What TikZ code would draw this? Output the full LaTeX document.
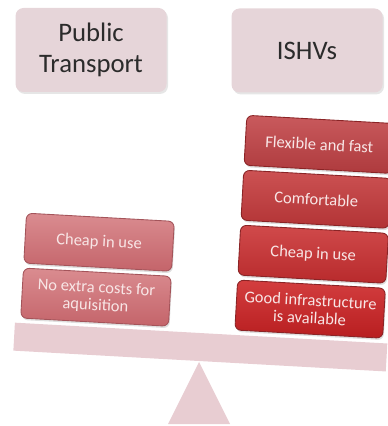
\documentclass[tikz,border=0pt]{standalone}
\usepackage{fontspec}
\setmainfont{Carlito}
\usetikzlibrary{shadows}

\definecolor{headerpink}{HTML}{E6D5D9}
\definecolor{headertext}{HTML}{2B2B2B}
\definecolor{beampink}{HTML}{E8CDD2}
\definecolor{boxtext}{HTML}{F8E6E6}
\definecolor{lefttop}{HTML}{DA8C90}
\definecolor{leftbottom}{HTML}{C4646A}
\definecolor{leftedge}{HTML}{A4545A}
\definecolor{rightedge}{HTML}{8A2426}
\definecolor{flextop}{HTML}{C95A5D}
\definecolor{flexbottom}{HTML}{AE3A3D}
\definecolor{comftop}{HTML}{CC5253}
\definecolor{comfbottom}{HTML}{B23335}
\definecolor{cheaptop}{HTML}{D04A4B}
\definecolor{cheapbottom}{HTML}{B82A2C}
\definecolor{goodtop}{HTML}{D33E3F}
\definecolor{goodbottom}{HTML}{B81E20}

\begin{document}
\begin{tikzpicture}[
  header/.style={minimum height=1.68cm, minimum width=3.02cm, rounded corners=0.16cm, fill=headerpink, text=headertext, align=center, font=\fontsize{15.2}{17.6}\selectfont, drop shadow={opacity=0.2, shadow xshift=0.03cm, shadow yshift=-0.04cm}},
  argbox/.style={minimum height=1cm, minimum width=2.96cm, rounded corners=0.12cm, draw=#1, line width=0.5pt, text=boxtext, align=center, inner sep=1pt, font=\fontsize{9.4}{10}\selectfont, drop shadow={opacity=0.25, shadow xshift=0.02cm, shadow yshift=-0.04cm}},
  leftbox/.style={argbox=leftedge, top color=lefttop, bottom color=leftbottom},
  rightbox/.style={argbox=rightedge, top color=#1top, bottom color=#1bottom}
]
\useasboundingbox (0,0) rectangle (7.74,-8.52);

\node (publictransport) [header] at (1.82, -1.0) {Public\\Transport};
\node (ishvs) [header] at (6.14, -1.01) {ISHVs};

% fulcrum
\fill[beampink] (3.36, -8.48) -- (3.98, -7.24) -- (4.60, -8.48) -- cycle;

\begin{scope}[rotate around={-3.2:(3.98,-7.24)}, transform shape]
\fill[beampink] (0.26, -6.66) rectangle (7.72, -7.22);

\node (cheapleft) [leftbox] at (1.85, -4.96) {Cheap in use};
\node (noextra) [leftbox] at (1.85, -6.06) {No extra costs for\\aquisition};

\node (flexible) [rightbox=flex] at (6.14, -2.76) {Flexible and fast};
\node (comfortable) [rightbox=comf] at (6.14, -3.86) {Comfortable};
\node (cheapright) [rightbox=cheap] at (6.14, -4.96) {Cheap in use};
\node (goodinfra) [rightbox=good] at (6.14, -6.06) {Good infrastructure\\is available};
\end{scope}

\end{tikzpicture}
\end{document}
